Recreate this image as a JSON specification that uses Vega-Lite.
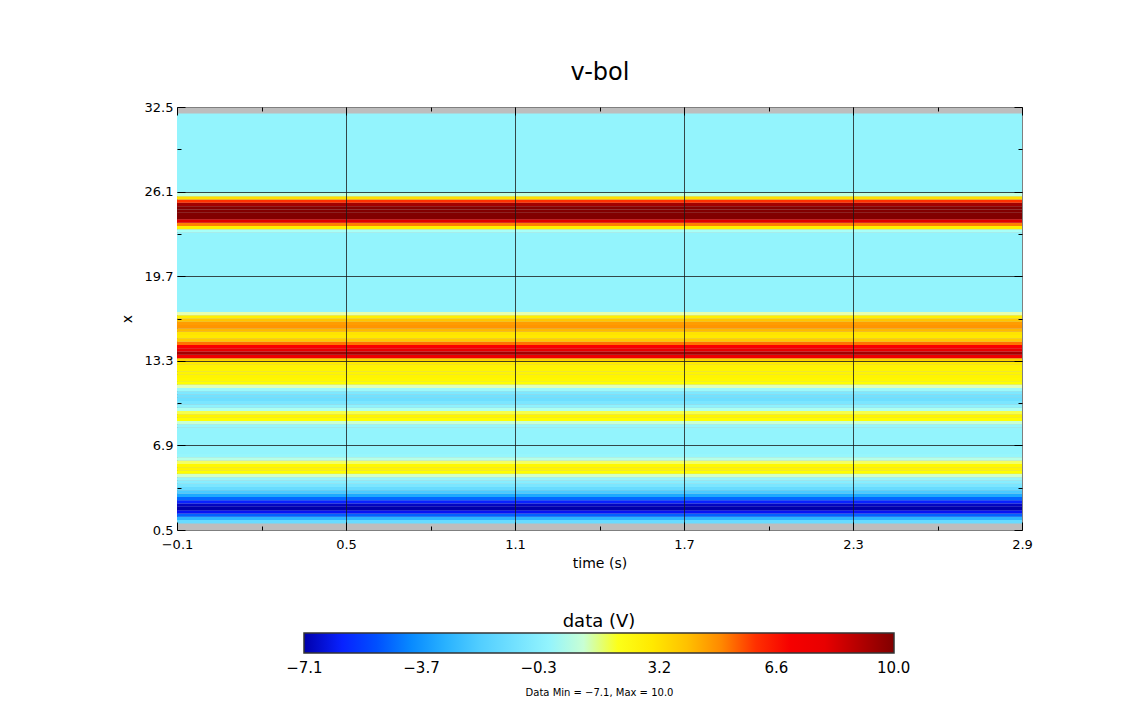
{
  "$schema": "https://vega.github.io/schema/vega-lite/v6.json",
  "width": 845,
  "height": 423,
  "padding": {"left": 120, "top": 60, "right": 5, "bottom": 5},
  "background": "white",
  "title": {"text": "Data Min = −7.1, Max = 10.0", "orient": "bottom", "frame": "group", "anchor": "middle", "fontSize": 10, "fontWeight": "normal", "font": "DejaVu Sans", "color": "black", "offset": 12},
  "config": {"view": {"fill": "#bdbdbd", "stroke": "#7f7f7f", "strokeWidth": 1}, "font": "DejaVu Sans"},
  "data": {"values": [
    {"x_lo": 1.0, "x_hi": 1.25, "v": -1.3},
    {"x_lo": 1.25, "x_hi": 1.5, "v": -2.9},
    {"x_lo": 1.5, "x_hi": 1.75, "v": -4.7},
    {"x_lo": 1.75, "x_hi": 2.0, "v": -6.4},
    {"x_lo": 2.0, "x_hi": 2.25, "v": -7.1},
    {"x_lo": 2.25, "x_hi": 2.5, "v": -6.9},
    {"x_lo": 2.5, "x_hi": 2.75, "v": -6.0},
    {"x_lo": 2.75, "x_hi": 3.0, "v": -4.6},
    {"x_lo": 3.0, "x_hi": 3.25, "v": -3.3},
    {"x_lo": 3.25, "x_hi": 3.5, "v": -2.2},
    {"x_lo": 3.5, "x_hi": 3.75, "v": -1.3},
    {"x_lo": 3.75, "x_hi": 4.0, "v": -0.7},
    {"x_lo": 4.0, "x_hi": 4.25, "v": -0.3},
    {"x_lo": 4.25, "x_hi": 4.5, "v": 0.1},
    {"x_lo": 4.5, "x_hi": 4.75, "v": 1.1},
    {"x_lo": 4.75, "x_hi": 5.0, "v": 2.1},
    {"x_lo": 5.0, "x_hi": 5.25, "v": 2.5},
    {"x_lo": 5.25, "x_hi": 5.5, "v": 2.4},
    {"x_lo": 5.5, "x_hi": 5.75, "v": 1.7},
    {"x_lo": 5.75, "x_hi": 6.0, "v": 0.8},
    {"x_lo": 6.0, "x_hi": 6.25, "v": 0.1},
    {"x_lo": 6.25, "x_hi": 8.25, "v": 0.0},
    {"x_lo": 8.25, "x_hi": 8.5, "v": 0.1},
    {"x_lo": 8.5, "x_hi": 8.75, "v": 1.0},
    {"x_lo": 8.75, "x_hi": 9.0, "v": 2.2},
    {"x_lo": 9.0, "x_hi": 9.25, "v": 2.5},
    {"x_lo": 9.25, "x_hi": 9.5, "v": 1.8},
    {"x_lo": 9.5, "x_hi": 9.75, "v": 0.7},
    {"x_lo": 9.75, "x_hi": 10.0, "v": -0.1},
    {"x_lo": 10.0, "x_hi": 10.25, "v": -0.7},
    {"x_lo": 10.25, "x_hi": 10.5, "v": -1.1},
    {"x_lo": 10.5, "x_hi": 10.75, "v": -1.0},
    {"x_lo": 10.75, "x_hi": 11.0, "v": -0.6},
    {"x_lo": 11.0, "x_hi": 11.25, "v": 0.3},
    {"x_lo": 11.25, "x_hi": 11.5, "v": 1.3},
    {"x_lo": 11.5, "x_hi": 11.75, "v": 2.1},
    {"x_lo": 11.75, "x_hi": 12.0, "v": 2.4},
    {"x_lo": 12.0, "x_hi": 12.25, "v": 2.5},
    {"x_lo": 12.25, "x_hi": 12.5, "v": 2.5},
    {"x_lo": 12.5, "x_hi": 12.75, "v": 2.5},
    {"x_lo": 12.75, "x_hi": 13.0, "v": 2.6},
    {"x_lo": 13.0, "x_hi": 13.25, "v": 2.9},
    {"x_lo": 13.25, "x_hi": 13.5, "v": 3.6},
    {"x_lo": 13.5, "x_hi": 13.75, "v": 7.5},
    {"x_lo": 13.75, "x_hi": 14.0, "v": 9.3},
    {"x_lo": 14.0, "x_hi": 14.25, "v": 8.0},
    {"x_lo": 14.25, "x_hi": 14.5, "v": 6.8},
    {"x_lo": 14.5, "x_hi": 14.75, "v": 5.3},
    {"x_lo": 14.75, "x_hi": 15.0, "v": 3.8},
    {"x_lo": 15.0, "x_hi": 15.25, "v": 3.0},
    {"x_lo": 15.25, "x_hi": 15.5, "v": 3.2},
    {"x_lo": 15.5, "x_hi": 15.75, "v": 4.2},
    {"x_lo": 15.75, "x_hi": 16.0, "v": 4.8},
    {"x_lo": 16.0, "x_hi": 16.25, "v": 4.7},
    {"x_lo": 16.25, "x_hi": 16.5, "v": 3.9},
    {"x_lo": 16.5, "x_hi": 16.75, "v": 2.7},
    {"x_lo": 16.75, "x_hi": 17.0, "v": 1.4},
    {"x_lo": 17.0, "x_hi": 23.0, "v": 0.0},
    {"x_lo": 23.0, "x_hi": 23.25, "v": 0.6},
    {"x_lo": 23.25, "x_hi": 23.5, "v": 2.7},
    {"x_lo": 23.5, "x_hi": 23.75, "v": 5.1},
    {"x_lo": 23.75, "x_hi": 24.0, "v": 8.2},
    {"x_lo": 24.0, "x_hi": 24.25, "v": 10.0},
    {"x_lo": 24.25, "x_hi": 24.5, "v": 10.0},
    {"x_lo": 24.5, "x_hi": 24.75, "v": 10.0},
    {"x_lo": 24.75, "x_hi": 25.0, "v": 10.0},
    {"x_lo": 25.0, "x_hi": 25.25, "v": 9.4},
    {"x_lo": 25.25, "x_hi": 25.5, "v": 6.0},
    {"x_lo": 25.5, "x_hi": 25.75, "v": 3.3},
    {"x_lo": 25.75, "x_hi": 26.0, "v": 0.9},
    {"x_lo": 26.0, "x_hi": 32.0, "v": 0.0}
  ]},
  "layer": [
    {
      "mark": {"type": "rect"},
      "encoding": {
        "x": {"datum": -0.1, "type": "quantitative",
          "scale": {"domain": [-0.1, 2.9], "nice": false, "zero": false},
          "axis": {
            "orient": "bottom", "zindex": 1,
            "values": [-0.1, 0.2, 0.5, 0.8, 1.1, 1.4, 1.7, 2.0, 2.3, 2.6, 2.9],
            "title": "time (s)", "titleFontSize": 14, "titleFontWeight": "normal", "titleColor": "black", "titlePadding": 1,
            "labelFontSize": 13, "labelColor": "black", "labelFlush": false, "labelOverlap": false, "labelPadding": 16,
            "labelExpr": "abs((datum.value + 0.1) / 0.6 - round((datum.value + 0.1) / 0.6)) < 0.01 ? format(datum.value, '.1f') : ''",
            "domain": false, "ticks": true, "tickColor": "black", "tickWidth": 1,
            "tickSize": {"condition": {"test": "abs((datum.value + 0.1) / 0.6 - round((datum.value + 0.1) / 0.6)) < 0.01", "value": -8}, "value": -4},
            "grid": true, "gridColor": "#1a1a1a", "gridWidth": 0.8,
            "gridOpacity": {"condition": {"test": "abs((datum.value + 0.1) / 0.6 - round((datum.value + 0.1) / 0.6)) < 0.01 && datum.value > 0 && datum.value < 2.8", "value": 1}, "value": 0}
          }},
        "x2": {"datum": 2.9},
        "y": {"field": "x_lo", "type": "quantitative",
          "scale": {"domain": [0.5, 32.5], "nice": false, "zero": false},
          "axis": {
            "orient": "left", "zindex": 1,
            "values": [0.5, 3.7, 6.9, 10.1, 13.3, 16.5, 19.7, 22.9, 26.1, 29.3, 32.5],
            "title": "x", "titleFontSize": 14, "titleFontWeight": "normal", "titleColor": "black", "titlePadding": 10,
            "labelFontSize": 13, "labelColor": "black", "labelFlush": false, "labelOverlap": false, "labelPadding": 12,
            "labelExpr": "abs((datum.value - 0.5) / 6.4 - round((datum.value - 0.5) / 6.4)) < 0.01 ? format(datum.value, '.1f') : ''",
            "domain": false, "ticks": true, "tickColor": "black", "tickWidth": 1,
            "tickSize": {"condition": {"test": "abs((datum.value - 0.5) / 6.4 - round((datum.value - 0.5) / 6.4)) < 0.01", "value": -8}, "value": -4},
            "grid": true, "gridColor": "#1a1a1a", "gridWidth": 0.8,
            "gridOpacity": {"condition": {"test": "abs((datum.value - 0.5) / 6.4 - round((datum.value - 0.5) / 6.4)) < 0.01 && datum.value > 1 && datum.value < 32", "value": 1}, "value": 0}
          }},
        "y2": {"field": "x_hi"},
        "color": {"field": "v", "type": "quantitative",
          "scale": {"type": "linear", "clamp": true, "interpolate": "rgb",
            "domain": [-7.11, -6.3, -5.0, -3.7, -2.3, -0.3, 0.6, 1.4, 2.1, 3.2, 4.4, 5.6, 6.4, 8.0, 10.01],
            "range": ["#0000a8", "#0a14ff", "#0050ff", "#0a9cff", "#48c8ff", "#88eeff", "#a8fff8", "#e8ffb0", "#ffff00", "#ffe400", "#ffb000", "#ff6000", "#ff0000", "#e80000", "#800000"]},
          "legend": {
            "type": "gradient",
            "orient": "none", "legendX": 127, "legendY": 506, "direction": "horizontal",
            "title": "data (V)", "titleFontSize": 18, "titleFontWeight": "normal", "titleColor": "black", "titleAnchor": "middle", "titlePadding": 2,
            "gradientLength": 590, "gradientThickness": 20, "gradientStrokeColor": "#333333", "gradientStrokeWidth": 1.5,
            "values": [-7.1, -3.7, -0.3, 3.2, 6.6, 10.0], "format": ".1f",
            "labelFontSize": 15, "labelColor": "black", "labelOffset": 8
          }}
      }
    },
    {
      "mark": {"type": "rect", "opacity": 0},
      "encoding": {
        "x": {"datum": -0.1, "type": "quantitative",
          "axis": {
            "orient": "top", "zindex": 1,
            "values": [-0.1, 0.2, 0.5, 0.8, 1.1, 1.4, 1.7, 2.0, 2.3, 2.6, 2.9],
            "labels": false, "domain": false, "grid": false, "ticks": true, "tickColor": "black", "tickWidth": 1,
            "tickSize": {"condition": {"test": "abs((datum.value + 0.1) / 0.6 - round((datum.value + 0.1) / 0.6)) < 0.01", "value": -8}, "value": -4},
            "title": "v-bol", "titleFontSize": 24, "titleFontWeight": "normal", "titleColor": "black", "titlePadding": 22
          }},
        "x2": {"datum": 2.9},
        "y": {"field": "x_lo", "type": "quantitative",
          "axis": {
            "orient": "right", "zindex": 1,
            "values": [0.5, 3.7, 6.9, 10.1, 13.3, 16.5, 19.7, 22.9, 26.1, 29.3, 32.5],
            "labels": false, "domain": false, "grid": false, "ticks": true, "tickColor": "black", "tickWidth": 1,
            "tickSize": {"condition": {"test": "abs((datum.value - 0.5) / 6.4 - round((datum.value - 0.5) / 6.4)) < 0.01", "value": -8}, "value": -4},
            "title": null
          }},
        "y2": {"field": "x_hi"}
      }
    }
  ],
  "resolve": {"axis": {"x": "independent", "y": "independent"}}
}
